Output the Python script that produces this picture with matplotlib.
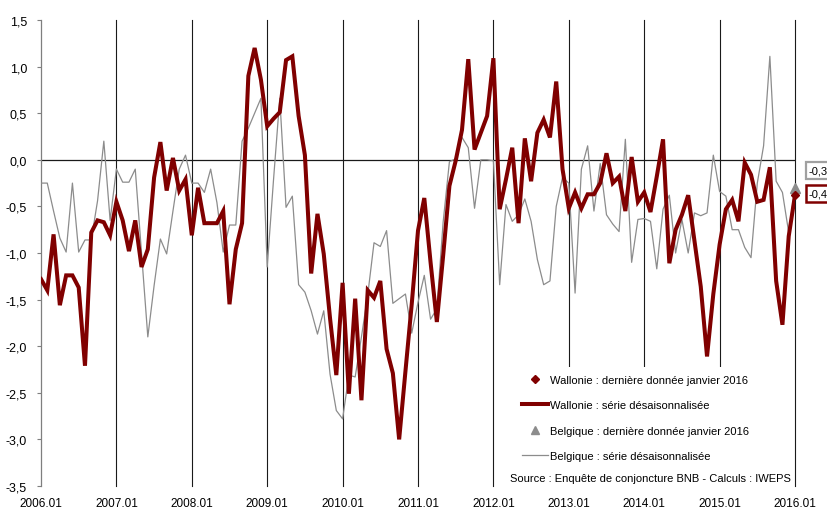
import numpy as np
import matplotlib
matplotlib.use('Agg')
import matplotlib.pyplot as plt
from matplotlib.lines import Line2D
from matplotlib.patches import Rectangle
from matplotlib import font_manager

# ---------------- data ----------------
years = list(range(2006, 2017))
tick_labels = [f"{y}.01" for y in years]

wallonie = [
    -1.28, -1.40, -0.80, -1.56, -1.24, -1.24, -1.37, -2.21, -0.78, -0.65, -0.67, -0.81,  # 2006
    -0.45, -0.65, -0.98, -0.65, -1.15, -0.96, -0.19, 0.19, -0.33, 0.02, -0.33, -0.21,    # 2007
    -0.81, -0.30, -0.68, -0.68, -0.68, -0.55, -1.55, -0.96, -0.68, 0.90, 1.20, 0.86,     # 2008
    0.36, 0.44, 0.51, 1.07, 1.11, 0.47, 0.05, -1.22, -0.58, -1.01, -1.70, -2.31,        # 2009
    -1.32, -2.51, -1.49, -2.58, -1.40, -1.48, -1.30, -2.03, -2.29, -3.00, -2.27, -1.55,  # 2010
    -0.76, -0.41, -1.10, -1.74, -1.03, -0.28, -0.01, 0.32, 1.08, 0.11, 0.29, 0.47,       # 2011
    1.09, -0.53, -0.21, 0.13, -0.68, 0.23, -0.23, 0.29, 0.43, 0.24, 0.84, -0.10,         # 2012
    -0.52, -0.35, -0.52, -0.37, -0.37, -0.25, 0.07, -0.25, -0.18, -0.55, 0.03, -0.45,    # 2013
    -0.35, -0.56, -0.18, 0.22, -1.11, -0.75, -0.59, -0.38, -0.87, -1.36, -2.11, -1.44,   # 2014
    -0.91, -0.53, -0.43, -0.66, -0.03, -0.16, -0.45, -0.43, -0.08, -1.30, -1.77, -0.82,  # 2015
    -0.38,                                                                               # 2016.01
]

belgique = [
    -0.25, -0.25, -0.55, -0.84, -0.99, -0.25, -0.99, -0.86, -0.86, -0.44, 0.20, -0.65,   # 2006
    -0.10, -0.24, -0.24, -0.10, -1.00, -1.90, -1.35, -0.85, -1.01, -0.55, -0.10, 0.05,   # 2007
    -0.25, -0.25, -0.35, -0.10, -0.46, -0.99, -0.70, -0.70, 0.20, 0.34, 0.50, 0.66,      # 2008
    -1.15, -0.22, 0.66, -0.51, -0.39, -1.34, -1.42, -1.62, -1.87, -1.62, -2.30, -2.69,   # 2009
    -2.78, -2.31, -2.33, -1.90, -1.45, -0.89, -0.93, -0.76, -1.54, -1.49, -1.44, -1.86,  # 2010
    -1.53, -1.24, -1.71, -1.60, -0.67, -0.02, 0.01, 0.24, 0.13, -0.52, 0.00, 0.00,       # 2011
    -0.01, -1.34, -0.48, -0.66, -0.59, -0.42, -0.66, -1.07, -1.34, -1.30, -0.50, -0.19,  # 2012
    -0.25, -1.43, -0.10, 0.15, -0.55, -0.04, -0.59, -0.69, -0.77, 0.22, -1.10, -0.64,    # 2013
    -0.63, -0.66, -1.17, -0.53, -0.38, -1.00, -0.64, -1.00, -0.57, -0.60, -0.57, 0.05,   # 2014
    -0.34, -0.39, -0.75, -0.75, -0.94, -1.05, -0.25, 0.15, 1.11, -0.23, -0.35, -0.78,    # 2015
    -0.30,                                                                               # 2016.01
]

wallonie_last_label = "-0,4"
belgique_last_label = "-0,3"

labels = [
    "Wallonie : dernière donnée janvier 2016",
    "Wallonie : série désaisonnalisée",
    "Belgique : dernière donnée janvier 2016",
    "Belgique : série désaisonnalisée",
]
source_text = "Source : Enquête de conjoncture BNB - Calculs : IWEPS"

# ---------------- style ----------------
available = {f.name for f in font_manager.fontManager.ttflist}
fam = 'Liberation Sans Narrow' if 'Liberation Sans Narrow' in available else 'Liberation Sans'
plt.rcParams['font.family'] = [fam, 'DejaVu Sans']

RED = '#800000'
GREY = '#8c8c8c'
FS = 9
FS_SMALL = 8

fig = plt.figure(figsize=(8.27, 5.10), dpi=100)
ax = fig.add_axes([41 / 827, 23 / 510, 754 / 827, 466 / 510])

x = np.arange(len(wallonie))
n_last = x[-1]

# year separators
for k in range(1, len(years)):
    ax.axvline(12 * k, color='#1a1a1a', lw=0.8, zorder=1, clip_on=False)
ax.axhline(0, color='#1a1a1a', lw=0.9, zorder=1)

# white area behind legend
ax.add_patch(Rectangle((0.608, -0.01), 0.383, 0.265, transform=ax.transAxes,
                       facecolor='white', edgecolor='none', zorder=2, clip_on=False))

ax.plot(x, belgique, color=GREY, lw=0.9, zorder=3)
ax.plot(x, wallonie, color=RED, lw=2.9, zorder=4, solid_joinstyle='miter')

ax.plot([n_last], [belgique[-1]], marker='^', color=GREY, ms=6.5, zorder=5, clip_on=False)
ax.plot([n_last], [wallonie[-1]], marker='D', color=RED, ms=4.5, zorder=6, clip_on=False)

ax.annotate(belgique_last_label, xy=(n_last, belgique[-1]), xytext=(10, 12.5),
            textcoords='offset points', ha='left', va='center', fontsize=FS_SMALL,
            annotation_clip=False,
            bbox=dict(boxstyle='square,pad=0.3', facecolor='white', edgecolor='#a0a0a0', lw=1.6))
ax.annotate(wallonie_last_label, xy=(n_last, wallonie[-1]), xytext=(10, 1.0),
            textcoords='offset points', ha='left', va='center', fontsize=FS_SMALL,
            annotation_clip=False,
            bbox=dict(boxstyle='square,pad=0.3', facecolor='white', edgecolor=RED, lw=1.8))

ax.set_xlim(0, 12 * (len(years) - 1))
ax.set_ylim(-3.5, 1.5)

yt = np.arange(-3.5, 1.51, 0.5)
ax.set_yticks(yt)
ax.set_yticklabels([("%.1f" % (0.0 if abs(v) < 1e-9 else v)).replace('.', ',') for v in yt], fontsize=FS)
ax.set_xticks([12 * k for k in range(len(years))])
ax.set_xticklabels(tick_labels, fontsize=8.5)

ax.tick_params(axis='x', length=0, pad=8)
ax.tick_params(axis='y', length=3, width=0.8, color='#7f7f7f', pad=7)
for s in ('top', 'right', 'bottom'):
    ax.spines[s].set_visible(False)
ax.spines['left'].set_color('#7f7f7f')
ax.spines['left'].set_linewidth(0.9)

handles = [
    Line2D([], [], marker='D', color=RED, linestyle='none', ms=4.5),
    Line2D([], [], color=RED, lw=2.9),
    Line2D([], [], marker='^', color=GREY, linestyle='none', ms=6),
    Line2D([], [], color=GREY, lw=0.9),
]
leg = ax.legend(handles, labels, loc='upper left', bbox_to_anchor=((522 - 41) / 754, (487 - 376) / 466),
                frameon=False, fontsize=FS_SMALL, handlelength=2.3, handletextpad=0.2,
                labelspacing=1.38, borderpad=0, borderaxespad=0)
leg.set_zorder(7)

ax.text((510 - 41) / 754, (487 - 479) / 466, source_text, transform=ax.transAxes,
        ha='left', va='center', fontsize=FS_SMALL, zorder=7)

fig.savefig('out.png', dpi=100)
